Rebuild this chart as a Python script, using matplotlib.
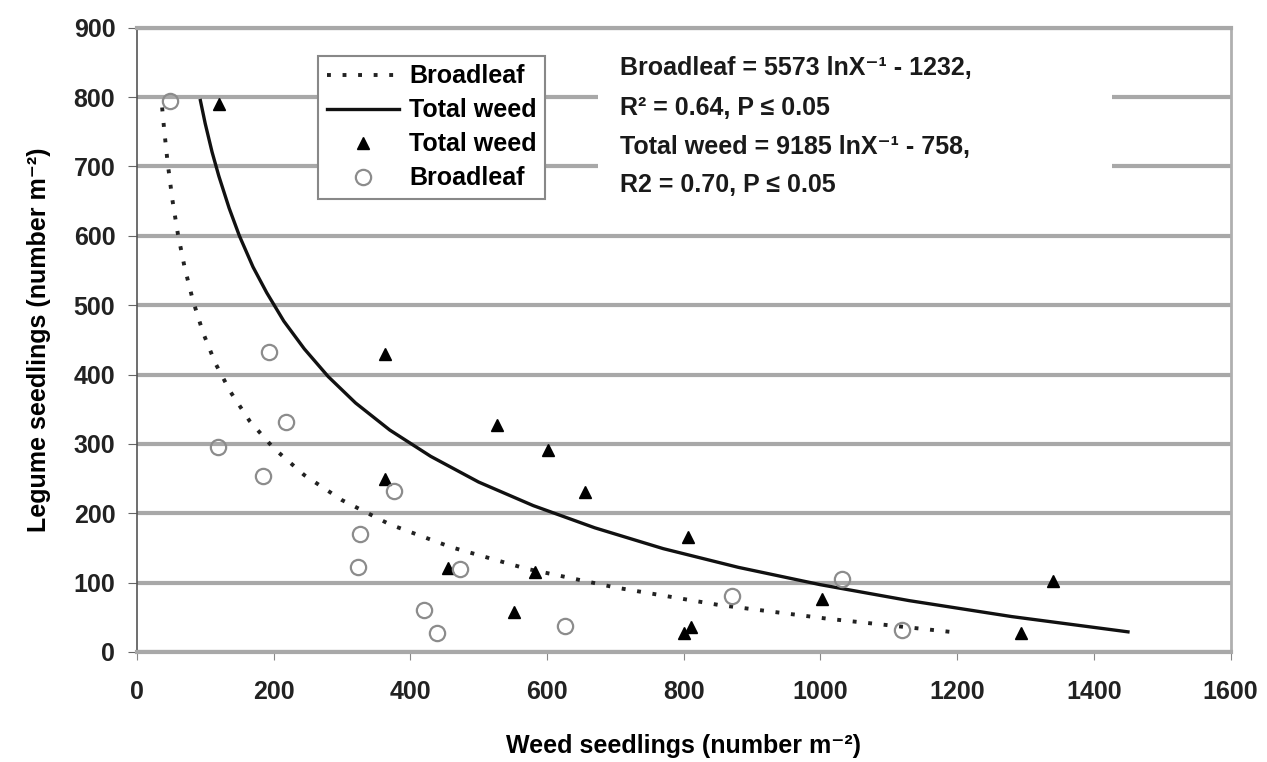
# Legume seedlings vs weed seedlings with fitted curves
import matplotlib
matplotlib.use("Agg")
import matplotlib.pyplot as plt
from matplotlib.patches import Rectangle

plt.rcParams['font.family'] = ['Liberation Sans', 'DejaVu Sans']
plt.rcParams['font.weight'] = 'bold'
plt.rcParams['axes.labelweight'] = 'bold'

total_x = [120, 363, 527, 602, 656, 363, 455, 583, 552, 807, 800, 810, 1003, 1341, 1293]
total_y = [790, 430, 327, 291, 230, 250, 121, 116, 58, 166, 27, 36, 77, 102, 27]

broad_x = [48, 194, 218, 119, 185, 376, 326, 324, 473, 420, 439, 626, 870, 1032, 1120]
broad_y = [795, 433, 332, 296, 254, 232, 170, 123, 119, 60, 28, 37, 81, 105, 32]

# Fitted curves
broad_fit_x = [37, 40, 45, 52, 60, 70, 82, 97, 115, 137, 165, 200, 245, 300, 370,
               460, 570, 700, 850, 1010, 1190]
broad_fit_y = [785, 753, 706, 652, 603, 554, 507, 460, 416, 375, 333, 294, 255, 219, 184,
               151, 120, 93, 68, 48, 29]

total_fit_x = [93, 100, 110, 120, 135, 150, 170, 190, 215, 245, 280, 320, 370, 430, 500,
               580, 670, 770, 880, 1000, 1130, 1280, 1450]
total_fit_y = [795, 762, 721, 686, 640, 600, 555, 518, 477, 437, 397, 359, 320, 282, 245,
               211, 179, 149, 122, 97, 74, 51, 29]

eq_lines = ["Broadleaf = 5573 lnX\u207b\u00b9 - 1232,",
            "R\u00b2 = 0.64, P \u2264 0.05",
            "Total weed = 9185 lnX\u207b\u00b9 - 758,",
            "R2 = 0.70, P \u2264 0.05"]
eq_y = [0.9354, 0.8714, 0.8089, 0.7480]

fig = plt.figure(figsize=(12.67, 7.62), dpi=100)
ax = fig.add_axes([0.108, 0.1444, 0.8632, 0.8192])

ax.plot(broad_fit_x, broad_fit_y, color='#222222', lw=2.8, ls=(0, (1.0, 3.0)),
        label='Broadleaf', zorder=3)
ax.plot(total_fit_x, total_fit_y, color='#111111', lw=2.4, label='Total weed', zorder=3)
ax.plot(total_x, total_y, ls='none', marker='^', ms=9, color='black',
        label='Total weed', zorder=4)
ax.plot(broad_x, broad_y, ls='none', marker='o', ms=11, mfc='none', mec='#8c8c8c',
        mew=1.6, label='Broadleaf', zorder=4)

ax.set_xlim(0, 1600)
ax.set_ylim(0, 900)
ax.set_xticks(range(0, 1601, 200))
ax.set_yticks(range(0, 901, 100))
ax.yaxis.grid(True, color='#a8a8a8', lw=3)
ax.set_axisbelow(True)

for s in ['top', 'bottom']:
    ax.spines[s].set_color('#a8a8a8')
    ax.spines[s].set_linewidth(3)
ax.spines['left'].set_color('#555555')
ax.spines['left'].set_linewidth(1.2)
ax.spines['right'].set_color('#b0b0b0')
ax.spines['right'].set_linewidth(2)

ax.tick_params(axis='both', labelsize=18, colors='#222222', direction='out')
ax.tick_params(axis='y', length=6.5, color='#666666', pad=9)
ax.tick_params(axis='x', length=6, color='#888888', pad=14)

ax.set_xlabel("Weed seedlings (number m\u207b\u00b2)", fontsize=18, labelpad=22)
ax.set_ylabel("Legume seedlings (number m\u207b\u00b2)", fontsize=18, labelpad=16)

# white box behind the equations
ax.add_patch(Rectangle((0.4215, 0.714), 0.47, 0.25, transform=ax.transAxes,
                       facecolor='white', edgecolor='none', zorder=1))
for t, yy in zip(eq_lines, eq_y):
    ax.text(0.4417, yy, t, transform=ax.transAxes, fontsize=18, va='center',
            ha='left', color='#1a1a1a', zorder=5)

leg = ax.legend(loc='upper left', bbox_to_anchor=(0.1655, 0.9555), borderaxespad=0,
                prop={'size': 18, 'weight': 'bold'}, frameon=True, fancybox=False,
                edgecolor='#888888', handlelength=2.9, labelspacing=0.4, borderpad=0.35,
                handletextpad=0.4)
leg.get_frame().set_linewidth(1.5)
leg.get_frame().set_alpha(1)
leg.set_zorder(6)

fig.savefig("out.png", dpi=100, facecolor='white')
